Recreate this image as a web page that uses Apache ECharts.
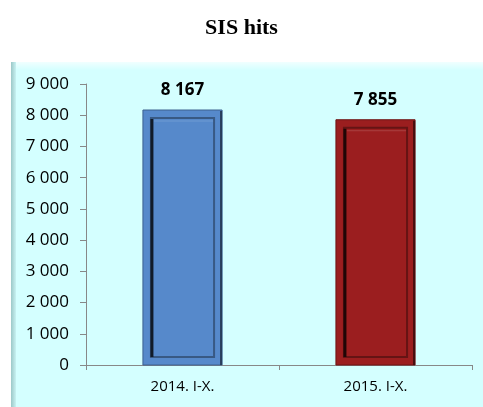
<!DOCTYPE html>
<html>
<head>
<meta charset="utf-8">
<script src="https://cdn.jsdelivr.net/npm/echarts@6/dist/echarts.min.js"></script>
<style>
  html, body { margin: 0; padding: 0; background: #ffffff; }
  #chart { width: 483px; height: 407px; }
</style>
</head>
<body>
<div id="chart"></div>
<script>
// Chart data
const categories = ['2014. I-X.', '2015. I-X.'];
const hits = [8167, 7855];
const barColors = ['#5689CB', '#9B1E1F'];
const yTicks = [0, 1000, 2000, 3000, 4000, 5000, 6000, 7000, 8000, 9000];

// Thousands separated by a space: 8167 -> "8 167"
function spaced(n) {
  return String(n).replace(/\B(?=(\d{3})+(?!\d))/g, ' ');
}

function shade(hex, f) {
  const n = parseInt(hex.slice(1), 16);
  let r = (n >> 16) & 255, g = (n >> 8) & 255, b = n & 255;
  const m = c => Math.max(0, Math.min(255, Math.round(f < 0 ? c * (1 + f) : c + (255 - c) * f)));
  return 'rgb(' + m(r) + ',' + m(g) + ',' + m(b) + ')';
}

// Bevelled column: outer rim, inset face with a dark left edge
function renderBevelBar(params, api) {
  const idx = api.value(0);
  const val = api.value(1);
  const top = api.coord([idx, val]);
  const base = api.coord([idx, 0]);
  const bw = api.size([1, 0])[0] * 0.41;
  const x = top[0] - bw / 2;
  const y = top[1];
  const h = base[1] - top[1];
  const col = barColors[idx];
  const inset = 8;
  return {
    type: 'group',
    children: [
      { type: 'rect', shape: { x: x, y: y, width: bw, height: h },
        style: { fill: col, stroke: shade(col, -0.3), lineWidth: 1 } },
      // right outer shadow
      { type: 'line', shape: { x1: x + bw - 1, y1: y + 1, x2: x + bw - 1, y2: base[1] },
        style: { stroke: shade(col, -0.55), lineWidth: 2 } },
      // inner face
      { type: 'rect', shape: { x: x + inset, y: y + inset, width: bw - 2 * inset, height: h - 2 * inset },
        style: { fill: col, stroke: shade(col, -0.35), lineWidth: 2 } },
      // dark inner left edge
      { type: 'line', shape: { x1: x + inset + 1, y1: y + inset + 1, x2: x + inset + 1, y2: base[1] - inset },
        style: { stroke: shade(col, -0.8), lineWidth: 3 } },
      // inner top highlight
      { type: 'line', shape: { x1: x + inset + 3, y1: y + inset + 3, x2: x + bw - inset - 1, y2: y + inset + 3 },
        style: { stroke: shade(col, 0.15), lineWidth: 1 } },
      // value label
      { type: 'text', x: top[0], y: y - 20,
        style: { text: spaced(val), fill: '#000000', font: 'bold 17px "Open Sans", sans-serif',
                 align: 'center', verticalAlign: 'middle' } }
    ]
  };
}

const chart = echarts.init(document.getElementById('chart'), null, { renderer: 'canvas' });

chart.setOption({
  animation: false,
  backgroundColor: '#ffffff',
  title: {
    text: 'SIS hits',
    left: 'center',
    top: 12,
    textStyle: { fontFamily: '"Liberation Serif", "Times New Roman", serif', fontWeight: 'bold', fontSize: 22, color: '#000' }
  },
  graphic: [
    // panel background
    { type: 'rect', left: 11, top: 62, shape: { width: 472, height: 345 }, z: -10,
      style: { fill: '#D4FFFF' } },
    // soft top edge
    { type: 'rect', left: 11, top: 62, shape: { width: 472, height: 8 }, z: -9,
      style: { fill: { type: 'linear', x: 0, y: 0, x2: 0, y2: 1,
        colorStops: [{ offset: 0, color: '#F0FFFF' }, { offset: 1, color: '#D4FFFF' }] } } },
    // shaded left edge
    { type: 'rect', left: 11, top: 62, shape: { width: 5, height: 345 }, z: -8,
      style: { fill: { type: 'linear', x: 0, y: 0, x2: 1, y2: 0,
        colorStops: [{ offset: 0, color: '#9CC8C8' }, { offset: 1, color: '#C8F2F2' }] } } }
  ],
  grid: { left: 86, right: 11, top: 84, bottom: 42 },
  xAxis: {
    type: 'category',
    data: categories,
    axisLine: { lineStyle: { color: '#888888', width: 1 } },
    axisTick: { show: true, alignWithLabel: false, length: 5, lineStyle: { color: '#888888' } },
    axisLabel: { color: '#000', fontFamily: '"Open Sans", sans-serif', fontSize: 15, margin: 14 }
  },
  yAxis: {
    type: 'value',
    min: yTicks[0],
    max: yTicks[yTicks.length - 1],
    interval: yTicks[1] - yTicks[0],
    axisLine: { show: true, lineStyle: { color: '#888888', width: 1 } },
    axisTick: { show: true, length: 6, lineStyle: { color: '#888888' } },
    splitLine: { show: false },
    axisLabel: { color: '#000', fontFamily: '"Open Sans", sans-serif', fontSize: 17, margin: 17,
                 formatter: v => spaced(v) }
  },
  series: [{
    type: 'custom',
    renderItem: renderBevelBar,
    encode: { x: 0, y: 1 },
    data: hits.map((v, i) => [i, v])
  }]
});
</script>
</body>
</html>
